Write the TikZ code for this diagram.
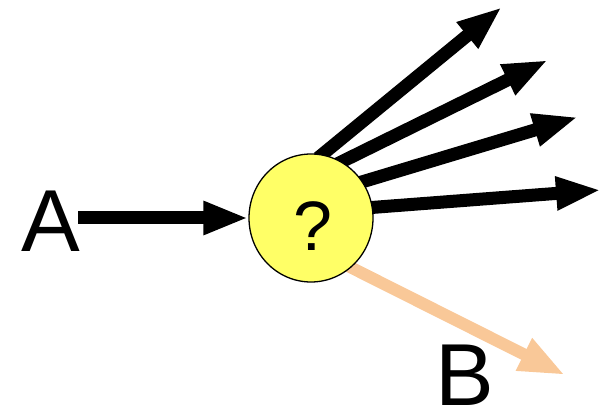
\documentclass[tikz,border=0pt]{standalone}
\usepackage{fontspec}
\setmainfont{Liberation Sans}
\usetikzlibrary{arrows.meta,shapes.geometric,backgrounds}
\definecolor{qyellow}{RGB}{255,255,102}
\definecolor{peach}{RGB}{249,200,152}
\tikzset{
  blackarrow/.style={draw=black,line width=13pt,-{Triangle[length=45pt,width=31pt]}},
  peacharrow/.style={draw=peach,line width=12pt,-{Triangle[length=46pt,width=33pt]}},
  bigletter/.style={inner sep=0pt,anchor=base,font=\fontsize{88}{88}\selectfont},
  qnode/.style={ellipse,draw=black,line width=1.3pt,fill=qyellow,minimum width=124pt,minimum height=128pt,inner sep=0pt}
}
\begin{document}
\begin{tikzpicture}[x=1pt,y=1pt]
\useasboundingbox (0,0) rectangle (602,410);
\node[qnode] (q) at (311,192) {};
\node[inner sep=0pt,anchor=base,font=\fontsize{70}{70}\selectfont] (qm) at (312.5,160) {?};
\node[bigletter] (a) at (51,158) {A};
\node[bigletter] (b) at (465,5) {B};
\coordinate (a0) at (78,192);
\coordinate (s1) at (318,252);
\coordinate (t1) at (502,403);
\coordinate (s2) at (335,245);
\coordinate (t2) at (548,350);
\coordinate (s3) at (355,226);
\coordinate (t3) at (578,293);
\coordinate (s4) at (365,202);
\coordinate (t4) at (601,220);
\coordinate (sb) at (340,148);
\coordinate (tb) at (565,35);
\begin{scope}[on background layer]
\draw[blackarrow] (s1) -- (t1);
\draw[blackarrow] (s2) -- (t2);
\draw[blackarrow] (s3) -- (t3);
\draw[blackarrow] (s4) -- (t4);
\draw[peacharrow] (sb) -- (tb);
\end{scope}
\draw[blackarrow] (a0) -- (q.west);
\end{tikzpicture}
\end{document}
